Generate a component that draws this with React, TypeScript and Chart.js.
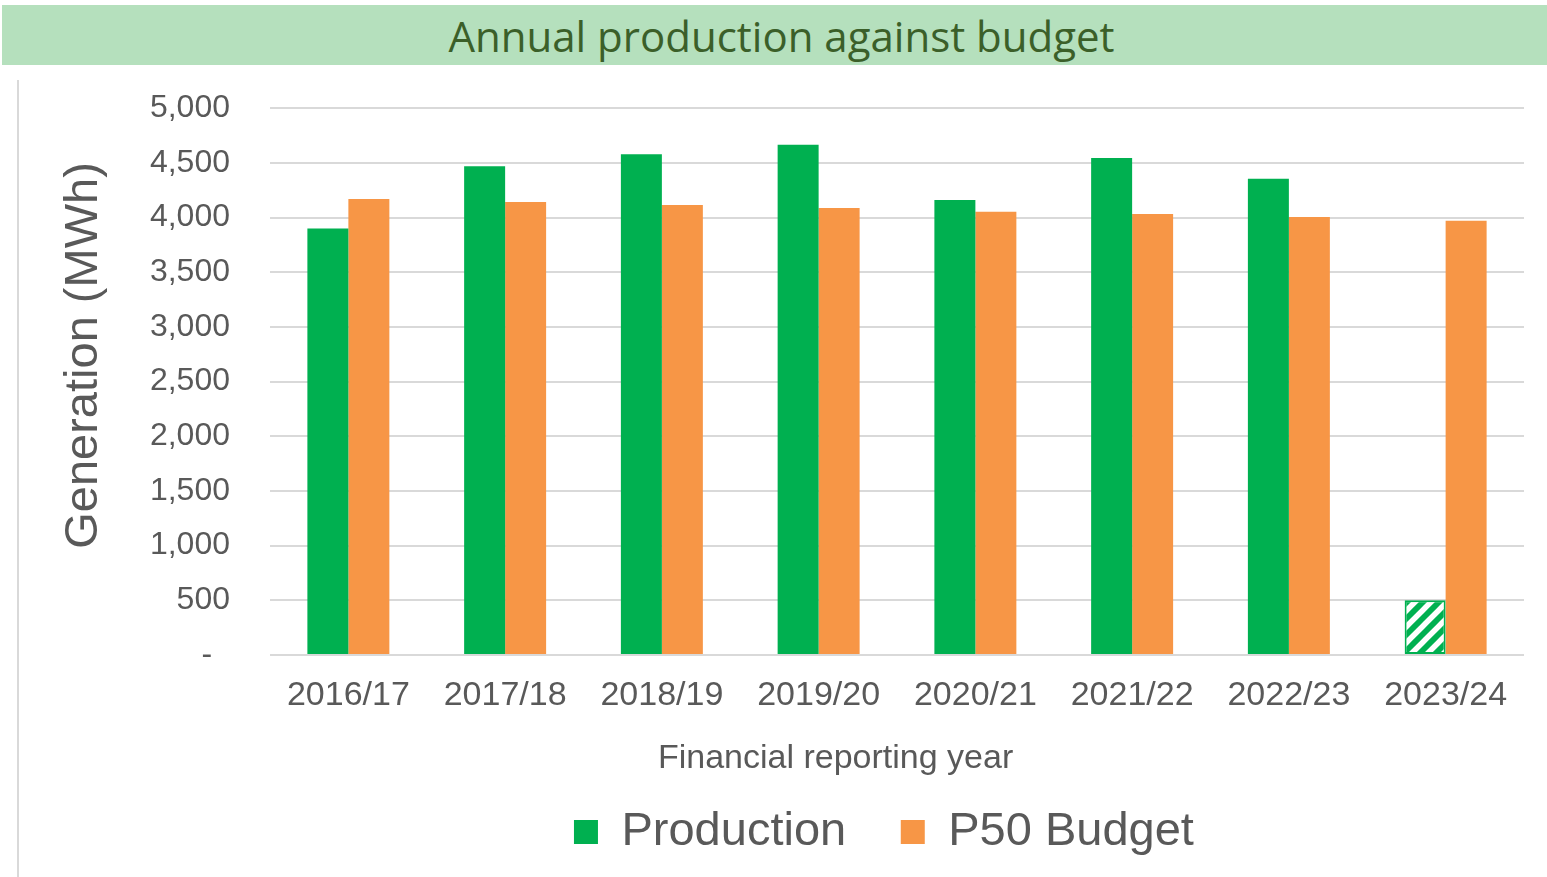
import React, { useEffect, useRef } from "react";
import { Chart, registerables } from "chart.js";

Chart.register(...registerables);

const categories = ["2016/17", "2017/18", "2018/19", "2019/20", "2020/21", "2021/22", "2022/23", "2023/24"];
const production = [3900, 4470, 4580, 4665, 4160, 4545, 4355, 500];
const budget = [4170, 4142, 4115, 4088, 4052, 4032, 4005, 3970];
const seriesNames = ["Production", "P50 Budget"];
const titleText = "Annual production against budget";
const yAxisTitle = "Generation (MWh)";
const xAxisTitle = "Financial reporting year";

const GREEN = "#00b050";
const ORANGE = "#f79646";
const GREY_TEXT = "#595959";
const GRID = "#d9d9d9";
const FONT = "'Liberation Sans', Arial, sans-serif";

export default function App() {
  const ref = useRef<HTMLCanvasElement | null>(null);

  useEffect(() => {
    const canvas = ref.current;
    if (!canvas) return;
    const ctx = canvas.getContext("2d")!;

    const S = 16;
    const pc = document.createElement("canvas");
    pc.width = S;
    pc.height = S;
    const p = pc.getContext("2d")!;
    p.fillStyle = GREEN;
    p.fillRect(0, 0, S, S);
    p.strokeStyle = "#ffffff";
    p.lineWidth = 5.5;
    p.beginPath();
    p.moveTo(-2, S + 2);
    p.lineTo(S + 2, -2);
    p.moveTo(-S - 2, S + 2);
    p.lineTo(2, -2);
    p.moveTo(-2, 2 * S + 2);
    p.lineTo(2 * S + 2, -2);
    p.stroke();
    const pattern = ctx.createPattern(pc, "repeat")!;

    const lastIdx = production.length - 1;
    const prodBg = production.map((_, i) => (i === lastIdx ? pattern : GREEN));
    const prodBorder = production.map((_, i) => (i === lastIdx ? 2 : 0));

    const chart = new Chart(ctx, {
      type: "bar",
      data: {
        labels: categories,
        datasets: [
          {
            label: seriesNames[0],
            data: production,
            backgroundColor: prodBg as any,
            borderColor: GREEN,
            borderWidth: prodBorder,
            borderSkipped: false,
            categoryPercentage: 0.523,
            barPercentage: 1,
          },
          {
            label: seriesNames[1],
            data: budget,
            backgroundColor: ORANGE,
            borderWidth: 0,
            categoryPercentage: 0.523,
            barPercentage: 1,
          },
        ],
      },
      options: {
        animation: false,
        responsive: false,
        maintainAspectRatio: false,
        layout: { padding: { top: 24, right: 23, bottom: 11.5, left: 0 } },
        plugins: {
          title: { display: false },
          tooltip: { enabled: false },
          legend: {
            position: "bottom",
            fullSize: false,
            labels: {
              color: GREY_TEXT,
              font: { family: FONT, size: 47 },
              boxWidth: 24,
              boxHeight: 24,
              padding: 28.5,
              generateLabels: (c: any) =>
                c.data.datasets.map((ds: any, i: number) => ({
                  text: ds.label + "  ",
                  fillStyle: i === 0 ? GREEN : ORANGE,
                  strokeStyle: i === 0 ? GREEN : ORANGE,
                  lineWidth: 0,
                  hidden: false,
                  datasetIndex: i,
                  fontColor: GREY_TEXT,
                })),
            },
          },
        },
        scales: {
          x: {
            grid: { display: false },
            border: { display: false },
            ticks: {
              color: GREY_TEXT,
              font: { family: FONT, size: 34 },
              padding: 12,
              maxRotation: 0,
            },
            title: {
              display: true,
              text: xAxisTitle + "             ",
              color: GREY_TEXT,
              font: { family: FONT, size: 34 },
              padding: { top: 0, bottom: 1 },
            },
            afterFit: (s: any) => {
              s.height = 125;
            },
          },
          y: {
            min: 0,
            max: 5000,
            grid: { color: GRID, lineWidth: 2, drawTicks: false },
            border: { display: false },
            ticks: {
              stepSize: 500,
              color: GREY_TEXT,
              font: { family: FONT, size: 32 },
              padding: 40,
              callback: (v: any) => (Number(v) === 0 ? "-  " : Number(v).toLocaleString("en-US")),
            },
            title: {
              display: true,
              text: "    " + yAxisTitle,
              color: GREY_TEXT,
              font: { family: FONT, size: 47 },
              padding: { top: 56, bottom: 0 },
            },
            afterFit: (s: any) => {
              s.width = 270;
            },
          },
        },
      },
    });
    return () => chart.destroy();
  }, []);

  return (
    <div style={{ position: "fixed", left: 0, top: 0, width: 1547, height: 877, background: "#ffffff", overflow: "hidden" }}>
      <div
        style={{
          position: "absolute",
          left: 2,
          top: 5,
          width: 1545,
          height: 60,
          background: "#b5e0bd",
          color: "#3b5f29",
          fontFamily: "'Open Sans', 'Noto Sans', sans-serif",
          fontSize: 42,
          lineHeight: "62px",
          textAlign: "center",
          boxSizing: "border-box",
          paddingLeft: 14,
        }}
      >
        {titleText}
      </div>
      <div style={{ position: "absolute", left: 17, top: 80, width: 2, height: 797, background: GRID }} />
      <canvas ref={ref} width={1547} height={828} style={{ position: "absolute", left: 0, top: 49, width: 1547, height: 828 }} />
    </div>
  );
}
